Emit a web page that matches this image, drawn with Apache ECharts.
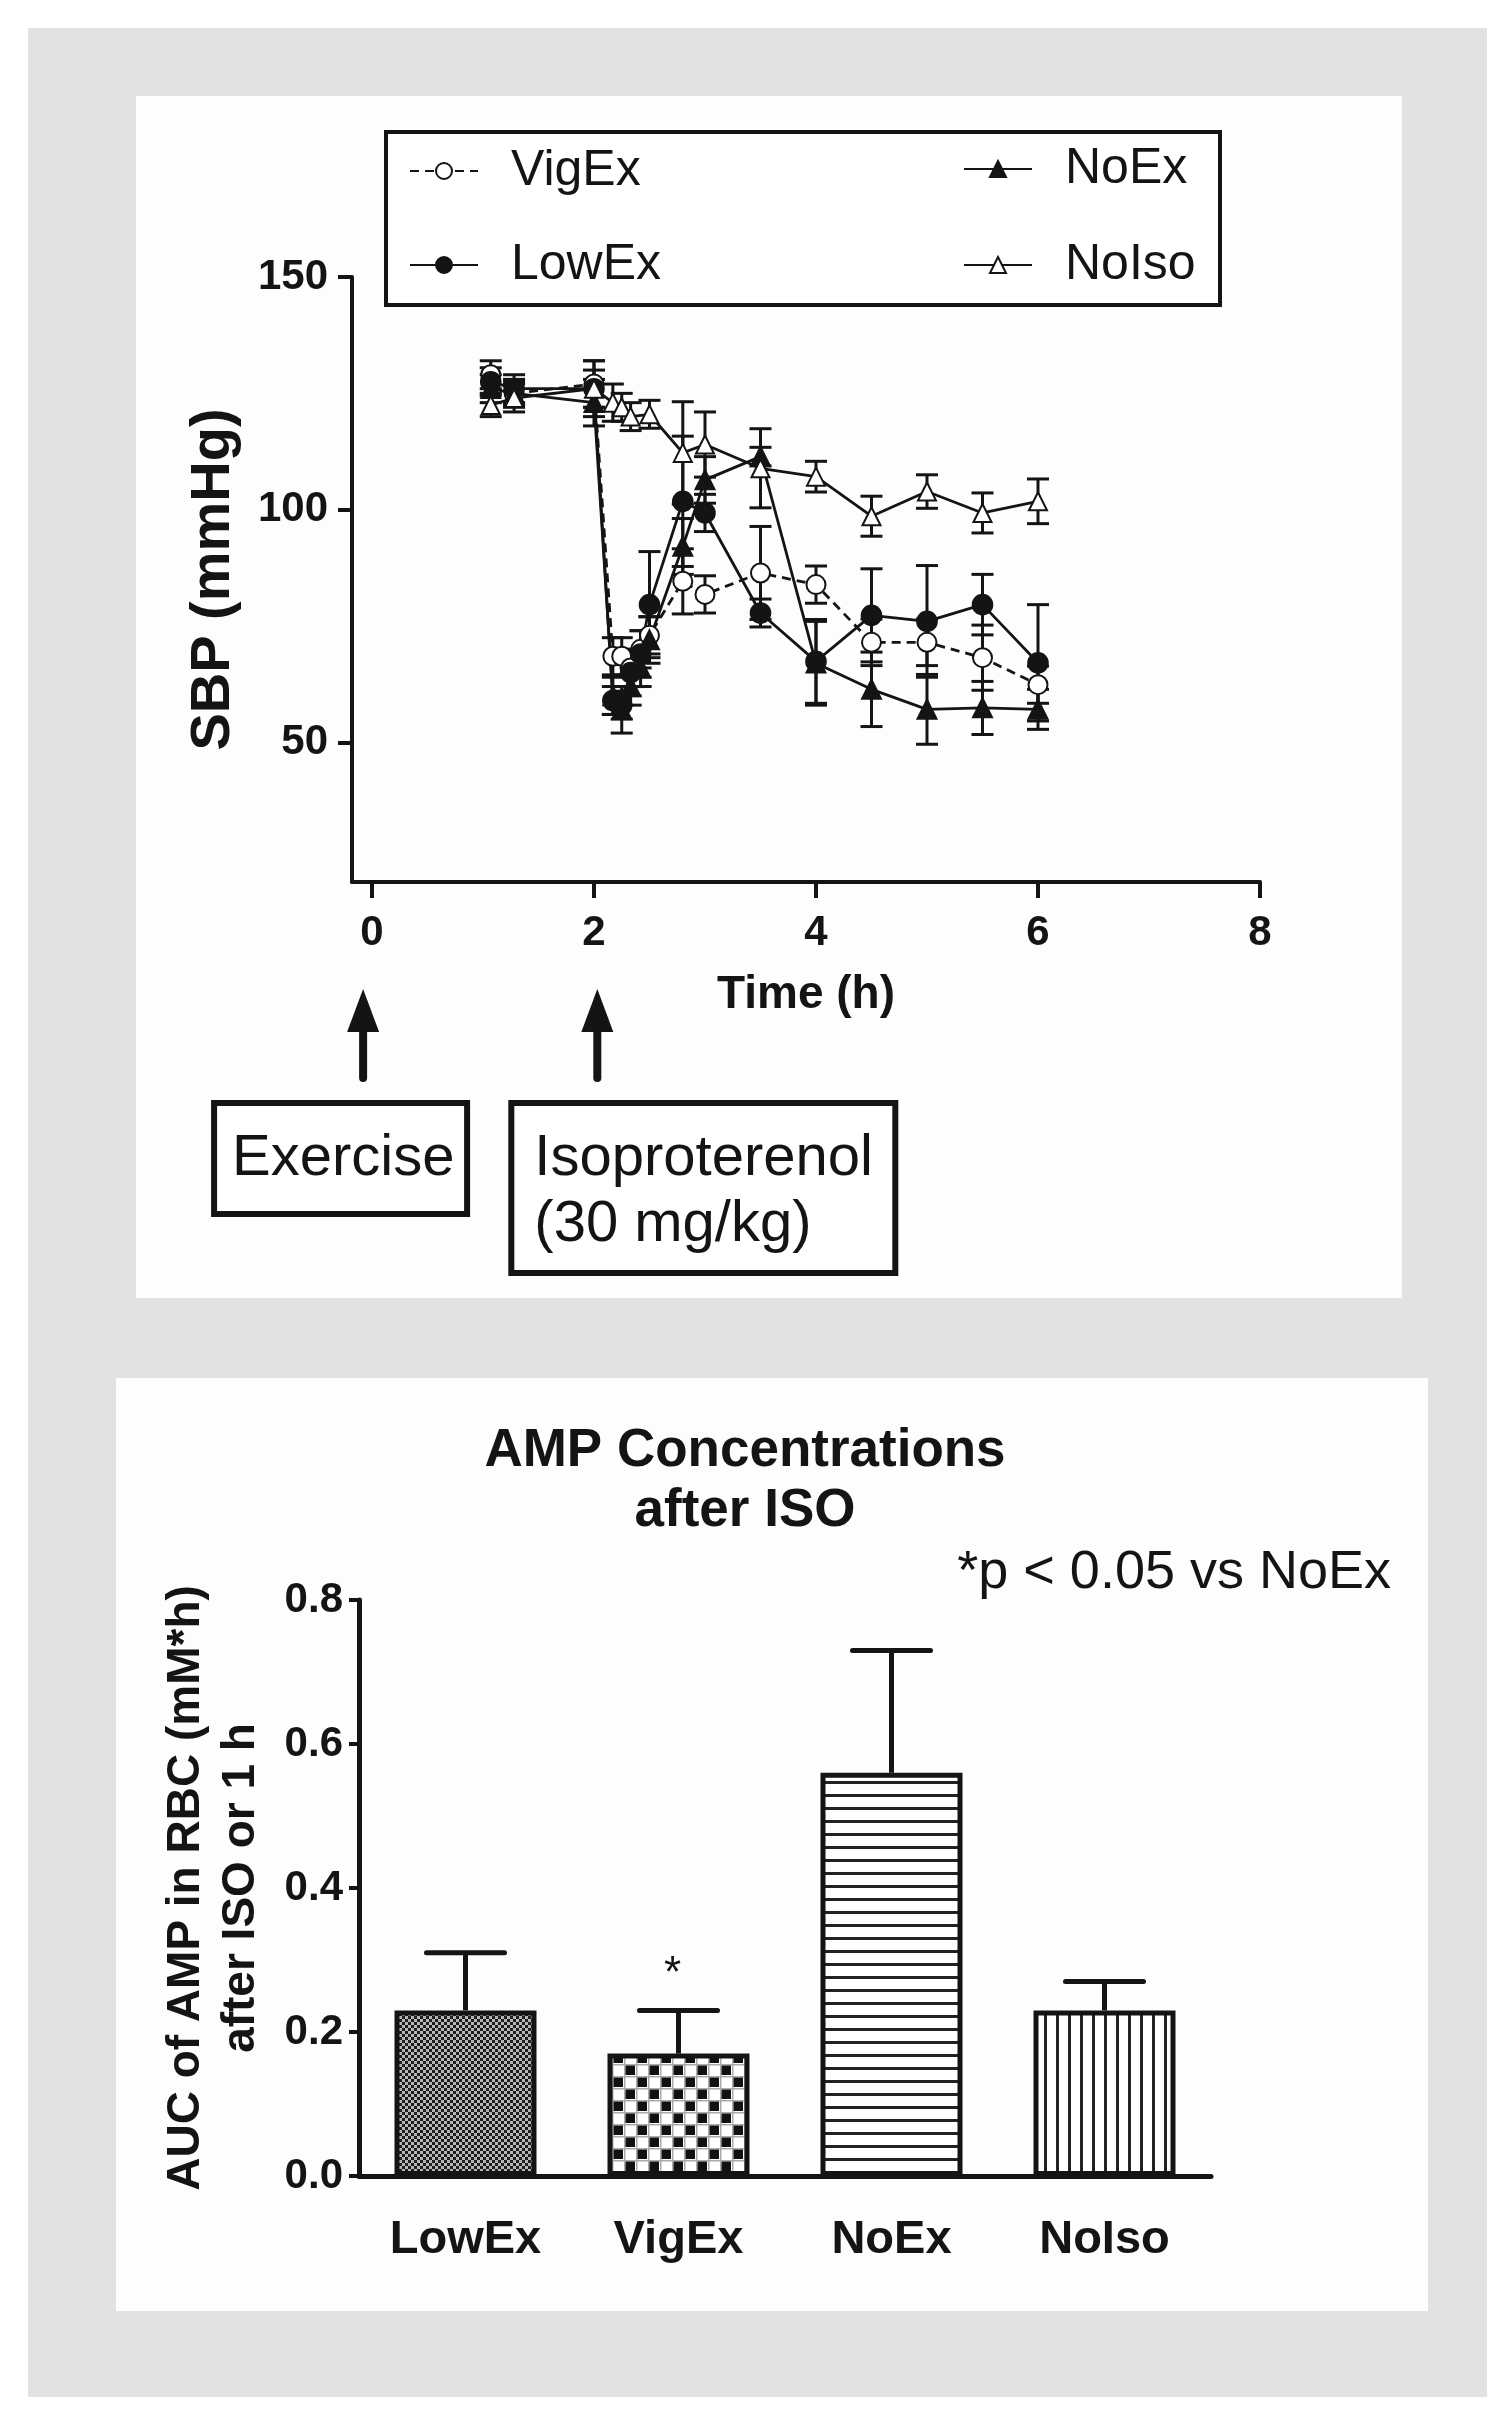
<!DOCTYPE html>
<html><head><meta charset="utf-8">
<script src="https://cdn.jsdelivr.net/npm/echarts@6/dist/echarts.min.js"></script>
<style>
html,body{margin:0;padding:0;background:#fff;}
#bg{position:absolute;left:28px;top:28px;width:1459px;height:2369px;background:#e2e2e2;}
#p1{position:absolute;left:136px;top:96px;width:1266px;height:1202px;background:#fdfdfd;}
#p2{position:absolute;left:116px;top:1378px;width:1312px;height:933px;background:#fdfdfd;}
#chart{position:absolute;left:0;top:0;width:1510px;height:2426px;}
</style></head><body>
<div id="bg"></div><div id="p1"></div><div id="p2"></div>
<div id="chart"></div>
<script>
// ---------- Top panel: SBP time course ----------
const times   = [1.07, 1.28, 2.0, 2.17, 2.25, 2.33, 2.42, 2.5, 2.8, 3.0, 3.5, 4.0, 4.5, 5.0, 5.5, 6.0];
const vigEx   = [129, 125, 127, 68.5, 68.5, 66, 70, 73, 84.6, 81.8, 86.4, 83.9, 71.5, 71.5, 68.2, 62.4];
const vigErr  = [3, 2.5, 5, 4, 4, 4, 4, 4, 7, 4, 10, 4, 5, 5, 7, 4];
const lowEx   = [127.5, 126, 126, 59, 58, 65, 69, 79.6, 101.8, 99.3, 77.8, 67.4, 77.3, 76, 79.6, 67.1];
const lowErr  = [3, 3, 6, 3, 3, 5, 5, 11.4, 14, 4, 3, 9, 10, 12, 6.5, 12.5];
const noEx    = [126, 125, 123, 60, 57, 62, 66, 72, 92.1, 106.4, 111.4, 67, 61.4, 57.1, 57.4, 57.1];
const noExErr = [3, 3, 5, 4, 5, 4, 4, 5, 6, 5, 2, 9, 8, 7.5, 5.7, 4.3];
const noIso   = [122.5, 124, 126, 123, 122, 120, null, 120.5, 112.2, 114, 108.9, 107.1, 98.6, 103.9, 99.3, 101.8];
const noIsoErr= [2.5, 3, 4, 4, 3, 3, null, 3, 11, 7, 8.5, 3.3, 4.3, 3.6, 4.3, 4.8];
const timeTicks = [0, 2, 4, 6, 8];
const sbpTicks  = [50, 100, 150];
const eventTimes  = [-0.08, 2.03];
const eventLabels = ['Exercise', 'Isoproterenol\n(30 mg/kg)'];

// ---------- Bottom panel: AMP AUC ----------
const groups   = ['LowEx', 'VigEx', 'NoEx', 'NoIso'];
const aucMean  = [0.23, 0.17, 0.56, 0.23];
const aucSem   = [0.08, 0.06, 0.17, 0.04];
const aucSig   = ['', '*', '', ''];
const aucTicks = [0, 0.2, 0.4, 0.6, 0.8];

const FONT = "'Liberation Sans', Arial, Helvetica, sans-serif";
const INK = '#141414';

function pattern(kind) {
  const c = document.createElement('canvas');
  const g = c.getContext('2d');
  if (kind === 'fine') {
    c.width = 6; c.height = 6;
    g.fillStyle = '#b5b5b5'; g.fillRect(0, 0, 6, 6);
    g.fillStyle = '#1e1e1e'; g.fillRect(0, 0, 3, 3); g.fillRect(3, 3, 3, 3);
  } else if (kind === 'check') {
    c.width = 24; c.height = 24;
    g.fillStyle = '#fff'; g.fillRect(0, 0, 24, 24);
    g.fillStyle = '#aaa'; g.fillRect(0, 0, 24, 1.5); g.fillRect(0, 12, 24, 1.5);
    g.fillRect(0, 0, 1.5, 24); g.fillRect(12, 0, 1.5, 24);
    g.fillStyle = '#111'; g.fillRect(1.5, 1.5, 9.5, 9.5); g.fillRect(13.5, 13.5, 9.5, 9.5);
  } else if (kind === 'h') {
    c.width = 8; c.height = 13;
    g.fillStyle = '#fff'; g.fillRect(0, 0, 8, 13);
    g.fillStyle = '#222'; g.fillRect(0, 0, 8, 3);
  } else {
    c.width = 12; c.height = 8;
    g.fillStyle = '#fff'; g.fillRect(0, 0, 12, 8);
    g.fillStyle = '#222'; g.fillRect(0, 0, 3, 8);
  }
  return { image: c, repeat: 'repeat' };
}
const barFills = [pattern('fine'), pattern('check'), pattern('h'), pattern('v')];

function pairs(vals) {
  const out = [];
  times.forEach((t, i) => { if (vals[i] != null) out.push([t, vals[i]]); });
  return out;
}
function errs(vals, es) {
  const out = [];
  times.forEach((t, i) => { if (vals[i] != null) out.push([t, vals[i], es[i]]); });
  return out;
}
const allErr = [].concat(errs(vigEx, vigErr), errs(lowEx, lowErr), errs(noEx, noExErr), errs(noIso, noIsoErr));

function lineSeries(name, vals, symbol, dashed) {
  return {
    name, type: 'line', xAxisIndex: 0, yAxisIndex: 0, data: pairs(vals),
    symbol, symbolSize: symbol.indexOf('riangle') >= 0 ? 18 : 19,
    showAllSymbol: true, animation: false, z: 3,
    lineStyle: { color: INK, width: 2.8, type: dashed ? [9, 6] : 'solid' },
    itemStyle: { color: INK, borderColor: INK, borderWidth: 2.6 },
    emphasis: { disabled: true }
  };
}

const chart = echarts.init(document.getElementById('chart'), null, { renderer: 'canvas' });

const legendText = { fontFamily: FONT, fontSize: 50, color: INK, lineHeight: 56, padding: [0, 0, 0, 28] };

chart.setOption({
  animation: false,
  backgroundColor: 'transparent',
  textStyle: { fontFamily: FONT },
  grid: [
    { left: 352, top: 277, width: 908, height: 605 },
    { left: 359, top: 1600, width: 852, height: 576 }
  ],
  legend: [
    { data: ['VigEx', 'LowEx'], orient: 'vertical', left: 404, top: 138, itemWidth: 68, itemHeight: 20, itemGap: 38, textStyle: legendText, selectedMode: false },
    { data: ['NoEx', 'NoIso'], orient: 'vertical', left: 958, top: 136, itemWidth: 68, itemHeight: 20, itemGap: 40, textStyle: legendText, selectedMode: false }
  ],
  xAxis: [
    {
      type: 'value', gridIndex: 0, min: -0.18, max: 8,
      name: 'Time (h)', nameLocation: 'middle', nameGap: 90,
      nameTextStyle: { fontFamily: FONT, fontWeight: 'bold', fontSize: 46, color: INK },
      axisLine: { onZero: false, lineStyle: { color: INK, width: 4 } },
      axisTick: { customValues: timeTicks, length: 16, lineStyle: { color: INK, width: 4 } },
      axisLabel: { customValues: timeTicks, margin: 30, fontFamily: FONT, fontWeight: 'bold', fontSize: 42, color: INK },
      splitLine: { show: false }
    },
    {
      type: 'category', gridIndex: 1, data: groups, boundaryGap: true,
      axisLine: { lineStyle: { color: INK, width: 5 } },
      axisTick: { show: false },
      axisLabel: { margin: 41, fontFamily: FONT, fontWeight: 'bold', fontSize: 47, color: INK },
      splitLine: { show: false }
    }
  ],
  yAxis: [
    {
      type: 'value', gridIndex: 0, min: 20, max: 150,
      name: 'SBP (mmHg)', nameLocation: 'middle', nameGap: 110, nameRotate: 90,
      nameTextStyle: { fontFamily: FONT, fontWeight: 'bold', fontSize: 56, color: INK },
      axisLine: { show: true, onZero: false, lineStyle: { color: INK, width: 4 } },
      axisTick: { show: true, customValues: sbpTicks, length: 14, lineStyle: { color: INK, width: 4 } },
      axisLabel: { customValues: sbpTicks, margin: 24, fontFamily: FONT, fontWeight: 'bold', fontSize: 42, color: INK },
      splitLine: { show: false }
    },
    {
      type: 'value', gridIndex: 1, min: 0, max: 0.8, interval: 0.2,
      name: 'AUC of AMP in RBC (mM*h)\nafter ISO or 1 h', nameLocation: 'middle', nameGap: 90, nameRotate: 90,
      nameTextStyle: { fontFamily: FONT, fontWeight: 'bold', fontSize: 46, lineHeight: 55, color: INK },
      axisLine: { show: true, onZero: false, lineStyle: { color: INK, width: 5 } },
      axisTick: { show: true, length: 10, lineStyle: { color: INK, width: 4 } },
      axisLabel: { margin: 16, fontFamily: FONT, fontWeight: 'bold', fontSize: 42, color: INK, formatter: v => v.toFixed(1) },
      splitLine: { show: false }
    }
  ],
  series: [
    {
      type: 'custom', xAxisIndex: 0, yAxisIndex: 0, data: allErr, z: 2, silent: true,
      renderItem(params, api) {
        const t = api.value(0), v = api.value(1), e = api.value(2);
        const lo = api.coord([t, v - e]), hi = api.coord([t, v + e]);
        const hw = 11, st = { stroke: INK, lineWidth: 3 };
        return { type: 'group', children: [
          { type: 'line', shape: { x1: lo[0], y1: lo[1], x2: hi[0], y2: hi[1] }, style: st },
          { type: 'line', shape: { x1: lo[0] - hw, y1: lo[1], x2: lo[0] + hw, y2: lo[1] }, style: st },
          { type: 'line', shape: { x1: hi[0] - hw, y1: hi[1], x2: hi[0] + hw, y2: hi[1] }, style: st }
        ] };
      }
    },
    lineSeries('VigEx', vigEx, 'emptyCircle', true),
    lineSeries('LowEx', lowEx, 'circle', false),
    lineSeries('NoEx', noEx, 'triangle', false),
    lineSeries('NoIso', noIso, 'emptyTriangle', false),
    {
      type: 'custom', xAxisIndex: 1, yAxisIndex: 1, z: 1, silent: true,
      data: groups.map((g, i) => [i, aucMean[i], aucSem[i]]),
      renderItem(params, api) {
        const i = api.value(0), m = api.value(1), e = api.value(2);
        const b = api.coord([i, m]), h = api.coord([i, m + e]);
        const hw = 39, st = { stroke: INK, lineWidth: 5 };
        const ch = [
          { type: 'line', shape: { x1: b[0], y1: b[1], x2: h[0], y2: h[1] }, style: st },
          { type: 'line', shape: { x1: h[0] - hw, y1: h[1], x2: h[0] + hw, y2: h[1] }, style: Object.assign({ lineCap: 'round' }, st) }
        ];
        const s = aucSig[params.dataIndex];
        if (s) ch.push({ type: 'text', style: { text: s, x: h[0] - 6, y: h[1] - 36, align: 'center', verticalAlign: 'middle', fill: INK, font: '44px ' + FONT } });
        return { type: 'group', children: ch };
      }
    },
    {
      type: 'bar', xAxisIndex: 1, yAxisIndex: 1, barWidth: 142, z: 3, silent: true,
      data: aucMean.map((v, i) => ({ value: v, itemStyle: { color: barFills[i] } })),
      itemStyle: { borderColor: INK, borderWidth: 5 }
    }
  ]
});

// annotations positioned from the time axis
const ax = eventTimes.map(t => chart.convertToPixel({ xAxisIndex: 0 }, t));
const gfx = [
  { type: 'rect', shape: { x: 386, y: 132, width: 834, height: 173 }, style: { fill: '#fff', stroke: INK, lineWidth: 4 }, z: 0 },
  { type: 'text', style: { text: 'AMP Concentrations\nafter ISO', x: 745, y: 1421, align: 'center', verticalAlign: 'top', fill: INK, font: 'bold 53px ' + FONT, lineHeight: 60 } },
  { type: 'text', style: { text: '*p < 0.05 vs NoEx', x: 1391, y: 1573, align: 'right', verticalAlign: 'middle', fill: INK, font: '54px ' + FONT } }
];
ax.forEach((x) => {
  gfx.push({ type: 'line', shape: { x1: x, y1: 1025, x2: x, y2: 1078 }, style: { stroke: INK, lineWidth: 8, lineCap: 'round' } });
  gfx.push({ type: 'polygon', shape: { points: [[x, 989], [x - 16, 1032], [x + 16, 1032]] }, style: { fill: INK } });
});
// boxes
gfx.push({ type: 'rect', shape: { x: ax[0] - 149, y: 1103, width: 253, height: 111 }, style: { fill: '#fff', stroke: INK, lineWidth: 6 } });
gfx.push({ type: 'text', style: { text: eventLabels[0], x: ax[0] - 131, y: 1159, align: 'left', verticalAlign: 'middle', fill: INK, font: '58px ' + FONT } });
gfx.push({ type: 'rect', shape: { x: ax[1] - 86, y: 1103, width: 384, height: 170 }, style: { fill: '#fff', stroke: INK, lineWidth: 6 } });
gfx.push({ type: 'text', style: { text: eventLabels[1], x: ax[1] - 63, y: 1126, align: 'left', verticalAlign: 'top', fill: INK, font: '58px ' + FONT, lineHeight: 66 } });
chart.setOption({ graphic: { elements: gfx } });
</script>
</body></html>
